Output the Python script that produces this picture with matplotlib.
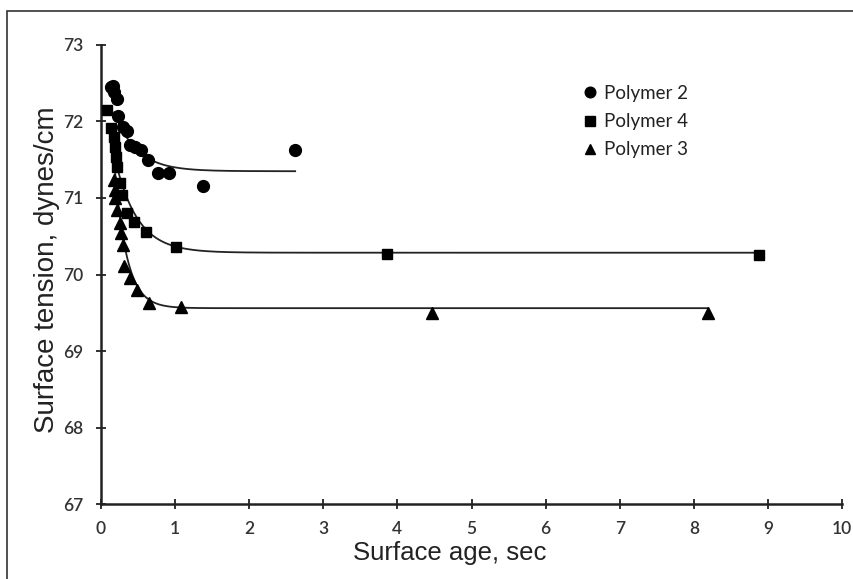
import numpy as np
import matplotlib
matplotlib.use("Agg")
import matplotlib.pyplot as plt
from matplotlib.patches import Rectangle

# ---- data ----
p2_x = [0.13, 0.16, 0.18, 0.21, 0.23, 0.30, 0.35, 0.39, 0.46, 0.54, 0.64, 0.77, 0.92, 1.38, 2.62]
p2_y = [72.45, 72.46, 72.38, 72.29, 72.07, 71.93, 71.87, 71.69, 71.67, 71.63, 71.50, 71.33, 71.33, 71.16, 71.63]

p4_x = [0.08, 0.14, 0.17, 0.19, 0.20, 0.22, 0.26, 0.28, 0.35, 0.44, 0.61, 1.01, 3.86, 8.88]
p4_y = [72.15, 71.91, 71.80, 71.67, 71.54, 71.41, 71.19, 71.04, 70.80, 70.69, 70.56, 70.36, 70.27, 70.25]

p3_x = [0.17, 0.19, 0.19, 0.21, 0.26, 0.27, 0.29, 0.31, 0.39, 0.48, 0.65, 1.08, 4.47, 8.19]
p3_y = [71.24, 71.10, 71.00, 70.84, 70.67, 70.54, 70.39, 70.11, 69.95, 69.80, 69.63, 69.57, 69.50, 69.50]

# exponential fit curves: (plateau, amplitude, tau, x_start, x_end)
fit_p2 = (71.35, 1.40, 0.30, 0.18, 2.62)
fit_p4 = (70.285, 2.30, 0.30, 0.15, 8.88)
fit_p3 = (69.56, 5.60, 0.165, 0.15, 8.19)

labels = ["Polymer 2", "Polymer 4", "Polymer 3"]
x_ticks = list(range(0, 11))
y_ticks = list(range(67, 74))

fig = plt.figure(figsize=(8.54, 5.79), dpi=100)
ax = fig.add_axes([0.1183, 0.1295, 0.986 - 0.1183, 0.9223 - 0.1295])

def fitcurve(p):
    plateau, amp, tau, x0, x1 = p
    xs = np.linspace(x0, x1, 400)
    return xs, plateau + amp * np.exp(-xs / tau)

for p in (fit_p2, fit_p4, fit_p3):
    xs, ys = fitcurve(p)
    ax.plot(xs, ys, color="#222222", lw=1.3, zorder=2)

h2, = ax.plot(p2_x, p2_y, "o", color="black", ms=8.5, ls="none", zorder=3)
h4, = ax.plot(p4_x, p4_y, "s", color="black", ms=7.5, ls="none", zorder=3)
h3, = ax.plot(p3_x, p3_y, "^", color="black", ms=8, ls="none", zorder=3)

ax.set_xlim(0, 10)
ax.set_ylim(67, 73)
ax.set_xticks(x_ticks)
ax.set_yticks(y_ticks)
for s in ("top", "right"):
    ax.spines[s].set_visible(False)
for s in ("left", "bottom"):
    ax.spines[s].set_linewidth(1.8)
    ax.spines[s].set_color("#222222")
ax.tick_params(direction="inout", length=7, width=1.3, colors="#222222",
               labelsize=12.5, labelcolor="#333333")
ax.tick_params(axis="y", pad=9)
ax.tick_params(axis="x", pad=9)
for lab in ax.get_xticklabels() + ax.get_yticklabels():
    lab.set_family(["Lato", "DejaVu Sans"])
    lab.set_fontweight("semibold")

ax.set_xlabel("Surface age, sec", fontsize=18.5, family=["Liberation Sans", "DejaVu Sans"],
              color="#222222")
ax.xaxis.set_label_coords(0.471, -0.08)
ax.set_ylabel("Surface tension, dynes/cm", fontsize=20, family=["Liberation Sans", "DejaVu Sans"],
              color="#222222")
ax.yaxis.set_label_coords(-0.056, 0.51)

leg = ax.legend([h2, h4, h3], labels, loc="upper left", bbox_to_anchor=(0.625, 0.95),
                frameon=False, prop={"family": ["Lato", "DejaVu Sans"], "size": 13.5},
                handletextpad=0.2, labelspacing=0.6, handlelength=1.0, markerscale=0.9)
for t in leg.get_texts():
    t.set_color("#222222")

fig.patches.append(Rectangle((7 / 854, -0.01), 1.1, 1 - 11 / 579 + 0.01,
                             transform=fig.transFigure, fill=False,
                             edgecolor="#333333", lw=1.2))

fig.savefig("out.png", dpi=100)
